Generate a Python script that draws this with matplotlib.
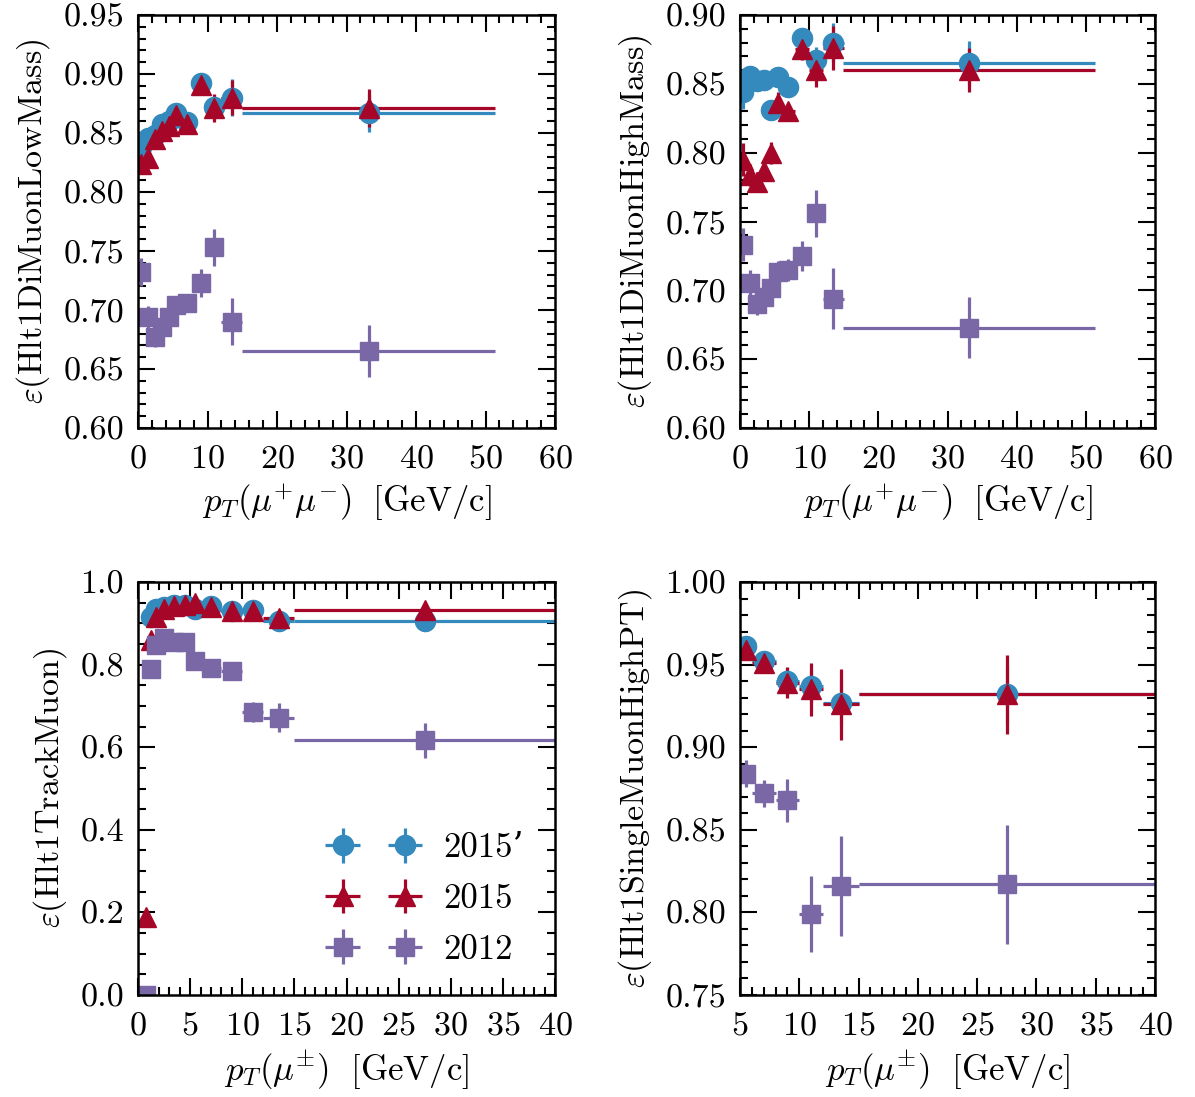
import matplotlib
matplotlib.use("Agg")
import matplotlib.pyplot as plt
from matplotlib.ticker import MultipleLocator

plt.rcParams['font.family'] = ['cmr10', 'DejaVu Serif']
plt.rcParams['mathtext.fontset'] = 'cm'
plt.rcParams['axes.formatter.use_mathtext'] = True
plt.rcParams['axes.unicode_minus'] = False

C_BLUE = '#348ABD'
C_RED = '#A60628'
C_PURP = '#7A68A6'

# ---------------- Panel 1: Hlt1DiMuonLowMass ----------------
p1_x = [0.5, 1.5, 2.5, 3.5, 4.5, 5.5, 7, 9, 11, 13.5, 33.2]
p1_xerr = [0.5, 0.5, 0.5, 0.5, 0.5, 0.5, 1, 1, 1, 1.5, 18.2]
p1_blue = [0.838, 0.846, 0.848, 0.858, 0.860, 0.867, 0.859, 0.892, 0.872, 0.880, 0.867]
p1_blue_err = [0.010, 0.006, 0.005, 0.005, 0.005, 0.005, 0.005, 0.007, 0.010, 0.016, 0.016]
p1_red = [0.824, 0.829, 0.845, 0.852, 0.856, 0.865, 0.858, 0.891, 0.871, 0.880, 0.871]
p1_red_err = [0.008, 0.006, 0.005, 0.005, 0.005, 0.005, 0.005, 0.007, 0.012, 0.015, 0.016]
p1_purp = [0.732, 0.694, 0.677, 0.686, 0.694, 0.704, 0.706, 0.723, 0.753, 0.690, 0.665]
p1_purp_err = [0.012, 0.009, 0.008, 0.008, 0.007, 0.007, 0.007, 0.012, 0.016, 0.020, 0.022]

# ---------------- Panel 2: Hlt1DiMuonHighMass ----------------
p2_x = [0.5, 1.5, 2.5, 3.5, 4.5, 5.5, 7, 9, 11, 13.5, 33.1]
p2_xerr = [0.5, 0.5, 0.5, 0.5, 0.5, 0.5, 1, 1, 1, 1.5, 18.2]
p2_blue = [0.844, 0.856, 0.852, 0.853, 0.831, 0.855, 0.848, 0.883, 0.867, 0.880, 0.865]
p2_blue_err = [0.012, 0.007, 0.005, 0.005, 0.006, 0.006, 0.006, 0.007, 0.010, 0.014, 0.016]
p2_red = [0.795, 0.784, 0.779, 0.787, 0.800, 0.836, 0.830, 0.875, 0.860, 0.876, 0.860]
p2_red_err = [0.012, 0.008, 0.007, 0.007, 0.008, 0.008, 0.006, 0.008, 0.012, 0.016, 0.016]
p2_purp = [0.733, 0.705, 0.690, 0.695, 0.702, 0.713, 0.715, 0.725, 0.756, 0.694, 0.673]
p2_purp_err = [0.012, 0.010, 0.008, 0.008, 0.008, 0.008, 0.008, 0.011, 0.017, 0.022, 0.022]

# ---------------- Panel 3: Hlt1TrackMuon ----------------
p3_x = [0.75, 1.25, 1.75, 2.5, 3.5, 4.5, 5.5, 7, 9, 11, 13.5, 27.5]
p3_xerr = [0.25, 0.25, 0.25, 0.5, 0.5, 0.5, 0.5, 1, 1, 1, 1.5, 12.5]
p3_blue_x = [1.25, 1.75, 2.5, 3.5, 4.5, 5.5, 7, 9, 11, 13.5, 27.5]
p3_blue_xerr = [0.25, 0.25, 0.5, 0.5, 0.5, 0.5, 1, 1, 1, 1.5, 12.5]
p3_blue = [0.915, 0.935, 0.940, 0.945, 0.945, 0.935, 0.942, 0.930, 0.932, 0.905, 0.905]
p3_blue_err = [0.008, 0.006, 0.005, 0.005, 0.005, 0.005, 0.006, 0.008, 0.010, 0.015, 0.020]
p3_red = [0.19, 0.86, 0.915, 0.935, 0.942, 0.945, 0.948, 0.940, 0.930, 0.930, 0.912, 0.932]
p3_red_err = [0.012, 0.010, 0.008, 0.006, 0.005, 0.005, 0.005, 0.006, 0.008, 0.010, 0.015, 0.020]
p3_purp = [0.0, 0.789, 0.847, 0.864, 0.855, 0.855, 0.809, 0.792, 0.785, 0.685, 0.671, 0.617]
p3_purp_err = [0.010, 0.010, 0.010, 0.010, 0.010, 0.010, 0.010, 0.010, 0.012, 0.025, 0.035, 0.042]

# ---------------- Panel 4: Hlt1SingleMuonHighPT ----------------
p4_x = [5.5, 7, 9, 11, 13.5, 27.5]
p4_xerr = [0.5, 1, 1, 1, 1.5, 12.5]
p4_blue = [0.961, 0.952, 0.940, 0.937, 0.927, 0.932]
p4_blue_err = [0.003, 0.003, 0.008, 0.010, 0.014, 0.018]
p4_red = [0.959, 0.951, 0.939, 0.935, 0.926, 0.932]
p4_red_err = [0.003, 0.003, 0.0095, 0.016, 0.0215, 0.024]
p4_purp = [0.884, 0.872, 0.868, 0.799, 0.816, 0.817]
p4_purp_err = [0.008, 0.008, 0.013, 0.023, 0.030, 0.036]

labels = ['2015\u2019', '2015', '2012']

W, H = 1195, 1097
fig = plt.figure(figsize=(W / 100, H / 100), dpi=100)

def make_ax(l, t, r, b):
    return fig.add_axes([l / W, 1 - b / H, (r - l) / W, (b - t) / H])

ax1 = make_ax(138, 15, 555, 428)
ax2 = make_ax(740, 15, 1155, 428)
ax3 = make_ax(138, 582, 555, 995)
ax4 = make_ax(740, 582, 1155, 995)

def draw(ax, series):
    for (x, xe, y, ye), col, mk, ms, lab in zip(series, [C_BLUE, C_RED, C_PURP],
                                                ['o', '^', 's'], [14.5, 14.5, 13.5], labels):
        ax.errorbar(x, y, xerr=xe, yerr=ye, fmt=mk, color=col, ms=ms,
                    mec=col, elinewidth=2.3, capsize=0, label=lab)

draw(ax1, [(p1_x, p1_xerr, p1_blue, p1_blue_err),
           (p1_x, p1_xerr, p1_red, p1_red_err),
           (p1_x, p1_xerr, p1_purp, p1_purp_err)])
draw(ax2, [(p2_x, p2_xerr, p2_blue, p2_blue_err),
           (p2_x, p2_xerr, p2_red, p2_red_err),
           (p2_x, p2_xerr, p2_purp, p2_purp_err)])
draw(ax3, [(p3_blue_x, p3_blue_xerr, p3_blue, p3_blue_err),
           (p3_x, p3_xerr, p3_red, p3_red_err),
           (p3_x, p3_xerr, p3_purp, p3_purp_err)])
draw(ax4, [(p4_x, p4_xerr, p4_blue, p4_blue_err),
           (p4_x, p4_xerr, p4_red, p4_red_err),
           (p4_x, p4_xerr, p4_purp, p4_purp_err)])

ax1.set_xlim(0, 60); ax1.set_ylim(0.60, 0.95)
ax2.set_xlim(0, 60); ax2.set_ylim(0.60, 0.90)
ax3.set_xlim(0, 40); ax3.set_ylim(0.0, 1.0)
ax4.set_xlim(5, 40); ax4.set_ylim(0.75, 1.00)

for ax in (ax1, ax2):
    ax.xaxis.set_major_locator(MultipleLocator(10))
    ax.xaxis.set_minor_locator(MultipleLocator(2))
    ax.yaxis.set_major_locator(MultipleLocator(0.05))
    ax.yaxis.set_minor_locator(MultipleLocator(0.01))
    ax.yaxis.set_major_formatter(plt.FuncFormatter(lambda v, p: f'{v:.2f}'))
ax3.xaxis.set_major_locator(MultipleLocator(5))
ax3.xaxis.set_minor_locator(MultipleLocator(1))
ax3.yaxis.set_major_locator(MultipleLocator(0.2))
ax3.yaxis.set_minor_locator(MultipleLocator(0.05))
ax3.yaxis.set_major_formatter(plt.FuncFormatter(lambda v, p: f'{v:.1f}'))
ax4.xaxis.set_major_locator(MultipleLocator(5))
ax4.xaxis.set_minor_locator(MultipleLocator(1))
ax4.yaxis.set_major_locator(MultipleLocator(0.05))
ax4.yaxis.set_minor_locator(MultipleLocator(0.01))
ax4.yaxis.set_major_formatter(plt.FuncFormatter(lambda v, p: f'{v:.2f}'))

for ax in (ax1, ax2, ax3, ax4):
    ax.tick_params(which='both', direction='in', top=True, right=True,
                   labelsize=24.5, width=1.5)
    ax.tick_params(axis='y', pad=10)
    ax.tick_params(axis='x', pad=12)
    ax.tick_params(which='major', length=12)
    ax.tick_params(which='minor', length=6)
    for s in ax.spines.values():
        s.set_linewidth(1.8)

xl_pair = r'$p_T(\mu^{+}\mu^{-})\ \ [\mathrm{GeV/c}]$'
xl_single = r'$p_T(\mu^{\pm})\ \ [\mathrm{GeV/c}]$'
for ax, xl in ((ax1, xl_pair), (ax2, xl_pair), (ax3, xl_single), (ax4, xl_single)):
    ax.set_xlabel(xl, fontsize=25, labelpad=6)
ax1.set_ylabel(r'$\varepsilon(\mathrm{Hlt1DiMuonLowMass})$', fontsize=24.5, labelpad=8)
ax2.set_ylabel(r'$\varepsilon(\mathrm{Hlt1DiMuonHighMass})$', fontsize=24.5, labelpad=8)
ax3.set_ylabel(r'$\varepsilon(\mathrm{Hlt1TrackMuon})$', fontsize=24.5, labelpad=8)
ax4.set_ylabel(r'$\varepsilon(\mathrm{Hlt1SingleMuonHighPT})$', fontsize=24.5, labelpad=8)

ax3.legend(loc='lower right', bbox_to_anchor=(1.0, -0.005), numpoints=2,
           frameon=False, fontsize=25, handlelength=2.4, handletextpad=0.8,
           labelspacing=0.55)

fig.savefig('out.png', dpi=100)
